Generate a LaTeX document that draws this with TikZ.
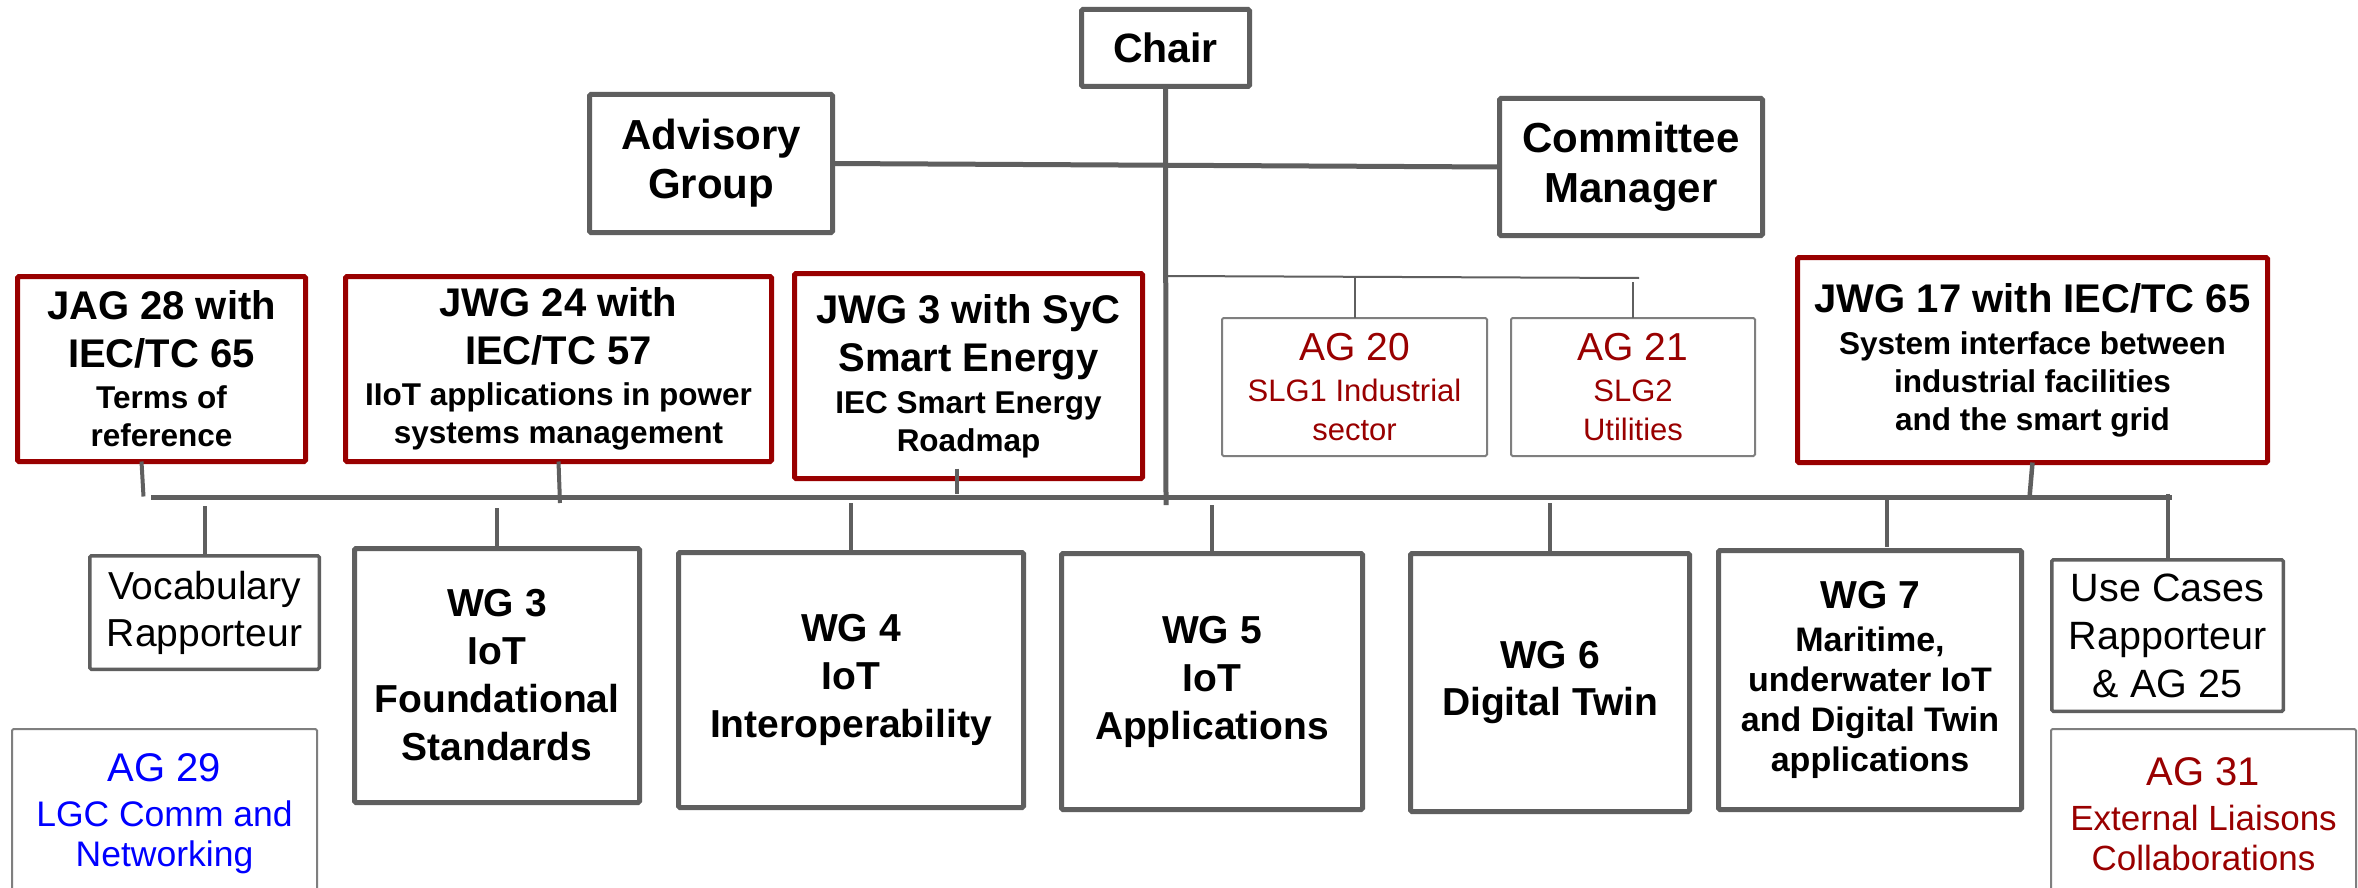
\documentclass[tikz,border=0pt]{standalone}
\usepackage{fontspec}
\setmainfont{Liberation Sans}
\usetikzlibrary{calc}
\definecolor{lgray}{HTML}{5F5F5F}
\definecolor{dred}{HTML}{990000}
\definecolor{tgray}{HTML}{7F7F7F}
\definecolor{ablue}{HTML}{0000FF}
\newcommand{\subt}[2]{{\fontsize{#1}{#1}\selectfont #2}}
\newcommand{\fs}[2]{\fontsize{#1}{#2}\selectfont\lineskiplimit=-100pt\relax}
\tikzset{
  boxbase/.style={inner sep=0pt, outer sep=0pt, align=center, rounded corners=1.5pt},
  graybox/.style={boxbase, draw=lgray, line width=5pt},
  midbox/.style={boxbase, draw=lgray, line width=3.5pt},
  redbox/.style={boxbase, draw=dred, line width=5pt},
  thinbox/.style={boxbase, draw=tgray, line width=2pt},
  conn/.style={draw=lgray, line width=4.5pt},
  busline/.style={draw=lgray, line width=5pt},
  thinconn/.style={draw=lgray, line width=2pt},
}
\begin{document}
\begin{tikzpicture}[x=1pt, y=-1pt]
\useasboundingbox (0,0) rectangle (2358,888);
\clip (0,0) rectangle (2358,888);
\fill[white] (0,0) rectangle (2358,888);

% top level
\node[graybox, minimum width=168pt, minimum height=77pt, font=\bfseries\fs{41}{48}] (chair) at (1165.5,48) {Chair};
\node[graybox, minimum width=243pt, minimum height=138pt, font=\bfseries\fs{42}{49}] (adv) at (711,163.5) {Advisory\\Group};
\node[graybox, minimum width=263pt, minimum height=137pt, font=\bfseries\fs{42}{50}] (cm) at (1631,167) {Committee\\Manager};

% joint groups
\node[redbox, minimum width=288pt, minimum height=185pt, font=\bfseries\fs{40}{38}] (jag) at (161.5,369)
  {JAG 28 with\\[10pt]IEC/TC 65\\[3pt]\subt{31.5}{Terms of}\\\subt{31.5}{reference}};
\node[redbox, minimum width=426pt, minimum height=185pt, font=\bfseries\fs{40}{38}] (jwg24) at (558.5,369)
  {JWG 24 with\\[10pt]IEC/TC 57\\[3pt]\subt{31.5}{IIoT applications in power}\\\subt{31.5}{systems management}};
\node[redbox, minimum width=348pt, minimum height=205pt, font=\bfseries\fs{40}{38}] (jwg3) at (968.5,376)
  {JWG 3 with SyC\\[10pt]Smart Energy\\[4pt]\subt{31.5}{IEC Smart Energy}\\\subt{31.5}{Roadmap}};
\node[redbox, minimum width=470pt, minimum height=205pt, font=\bfseries\fs{40}{38}] (jwg17) at (2032.5,360)
  {JWG 17 with IEC/TC 65\\[4pt]\subt{31.5}{System interface between}\\\subt{31.5}{industrial facilities}\\\subt{31.5}{and the smart grid}};

% advisory groups 20/21
\node[thinbox, minimum width=265pt, minimum height=138pt, text=dred, font=\fs{39}{39}] (ag20) at (1354.5,387)
  {AG 20\\[2pt]\subt{31}{SLG1 Industrial}\\\subt{31}{sector}};
\node[thinbox, minimum width=244pt, minimum height=138pt, text=dred, font=\fs{39}{39}] (ag21) at (1633,387)
  {AG 21\\[2pt]\subt{31}{SLG2}\\\subt{31}{Utilities}};

% lower row
\node[midbox, minimum width=229.5pt, minimum height=113.5pt, font=\fs{39}{47}] (vocab) at (204.5,612.5) {Vocabulary\\Rapporteur};
\node[graybox, minimum width=285pt, minimum height=254pt, font=\bfseries\fs{39}{48}] (wg3) at (497,675.5) {WG 3\\IoT\\Foundational\\Standards};
\node[graybox, minimum width=345pt, minimum height=255pt, font=\bfseries\fs{39}{48}] (wg4) at (851,680) {WG 4\\IoT\\Interoperability};
\node[graybox, minimum width=301pt, minimum height=256pt, font=\bfseries\fs{39}{48}] (wg5) at (1212,681.5) {WG 5\\IoT\\Applications};
\node[graybox, minimum width=279pt, minimum height=258pt, font=\bfseries\fs{39}{47}] (wg6) at (1550,682.5) {WG 6\\Digital Twin};
\node[graybox, minimum width=303pt, minimum height=259pt, font=\bfseries\fs{39}{40}] (wg7) at (1870,680)
  {WG 7\\[3pt]\subt{34}{Maritime,}\\\subt{34}{underwater IoT}\\\subt{34}{and Digital Twin}\\\subt{34}{applications}};
\node[midbox, minimum width=231.5pt, minimum height=151.5pt, font=\fs{39.5}{48}] (uc) at (2167.5,635.5) {Use Cases\\Rapporteur\\\& AG 25};

\node[thinbox, minimum width=305pt, minimum height=170pt, text=ablue, font=\fs{40}{40}] (ag29) at (164.5,814)
  {AG 29\\[5pt]\subt{35.5}{LGC Comm and}\\\subt{35.5}{Networking}};
\node[thinbox, minimum width=305pt, minimum height=170pt, text=dred, font=\fs{40}{40}] (ag31) at (2203.5,814)
  {AG 31\\[5pt]\subt{35}{External Liaisons}\\\subt{35}{Collaborations}};

% connectors
\coordinate (busL) at (151,497.5);
\coordinate (busR) at (2172,497.5);
\coordinate (chairEnd) at (1166,505);
\coordinate (agL) at (1166,276);
\coordinate (agR) at (1639,278);

\draw[busline] (busL) -- (busR);
\draw[busline] (chair.south) -- (chairEnd);
\draw[busline] (adv.east) -- (cm.west);
\draw[thinconn] (agL) -- (agR);
\draw[thinconn] (ag20.north) -- (ag20.north |- agL);
\draw[thinconn] (ag21.north) -- ($(ag21.north |- agR)+(0,4)$);

\draw[conn, line width=4pt] ($(jag.south)+(-20,0)$) -- ($(jag.south |- busL)+(-18,-1)$);
\draw[conn, line width=4pt] (jwg24.south) -- ($(jwg24.south |- busL)+(1.5,5.5)$);
\draw[conn, line width=4pt] ($(jwg3.south)+(-11.5,-10)$) -- ($(jwg3.south |- busL)+(-11.5,-4)$);
\draw[conn] (jwg17.south) -- ($(jwg17.south |- busL)+(-3,0)$);

\draw[conn, line width=4pt] ($(vocab.north |- busL)+(0,8.5)$) -- (vocab.north);
\draw[conn] ($(wg3.north |- busL)+(0,10.5)$) -- (wg3.north);
\draw[conn] ($(wg4.north |- busL)+(0,5.5)$) -- (wg4.north);
\draw[conn] ($(wg5.north |- busL)+(0,7.5)$) -- (wg5.north);
\draw[conn] ($(wg6.north |- busL)+(0,5.5)$) -- (wg6.north);
\draw[conn] ($(wg7.north |- busL)+(17,2.5)$) -- ($(wg7.north)+(17,-4)$);
\draw[conn, line width=4pt] ($(uc.north |- busL)+(0,-4)$) -- (uc.north);
\end{tikzpicture}
\end{document}
